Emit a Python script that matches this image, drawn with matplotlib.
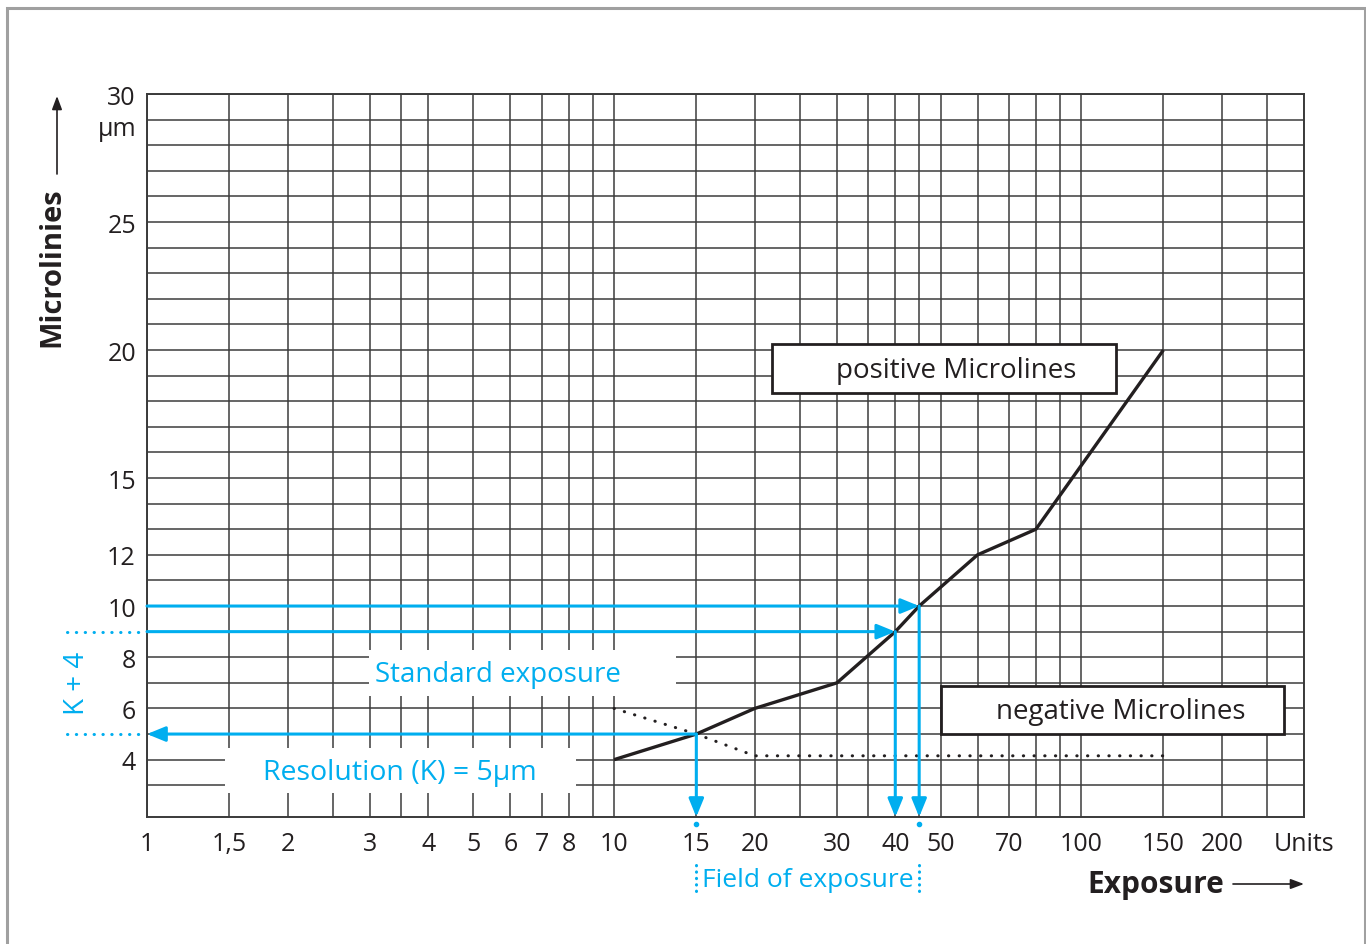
import numpy as np
import matplotlib.pyplot as plt
from matplotlib.patches import Rectangle
from matplotlib.transforms import blended_transform_factory

plt.rcParams['font.family'] = ['Open Sans', 'DejaVu Sans']

# chart values
positive_x = [10, 15, 20, 30, 40, 45, 60, 80, 150]
positive_y = [4, 5, 6, 7, 9, 10, 12, 13, 20]
negative_x = [10, 15, 20, 150]
negative_y = [6, 5, 4.15, 4.15]

x_ticks = [1, 1.5, 2, 3, 4, 5, 6, 7, 8, 10, 15, 20, 30, 40, 50, 70, 100, 150, 200, 300]
x_tick_labels = ['1', '1,5', '2', '3', '4', '5', '6', '7', '8', '10', '15', '20',
                 '30', '40', '50', '70', '100', '150', '200', 'Units']
x_minor = [2.5, 3.5, 9, 25, 35, 45, 60, 80, 90, 250]
y_ticks = [4, 6, 8, 10, 12, 15, 20, 25, 30]
y_minor = [3, 5, 7, 9, 11, 13, 14, 16, 17, 18, 19, 21, 22, 23, 24, 26, 27, 28, 29]

# worked example (blue)
standard_exposure = 15
resolution_k = 5
k_plus_4 = 9
field_x = [40, 45]
field_y = [9, 10]

BLUE = '#00aeef'
INK = '#231f20'
GRID = '#3c3c3c'
W, H = 1366, 945


def arrow(ax, tail, head, **kw):
    ax.annotate('', xy=head, xytext=tail,
                arrowprops=dict(arrowstyle='-|>,head_length=1.1,head_width=0.45',
                                mutation_scale=10, color=BLUE, lw=2.2,
                                shrinkA=0, shrinkB=0),
                annotation_clip=False, zorder=6, **kw)


fig = plt.figure(figsize=(W / 100, H / 100), dpi=100)
ax = fig.add_axes([147 / W, 1 - 818 / H, 1157 / W, 723 / H])

ax.set_xscale('log')
ax.set_xlim(1, 300)
ax.set_ylim(1.76, 30)

ax.set_xticks(x_ticks)
ax.set_xticklabels(x_tick_labels)
ax.set_xticks(x_minor, minor=True)
ax.xaxis.set_minor_formatter(plt.NullFormatter())
ax.set_yticks(y_ticks)
ax.set_yticks(y_minor, minor=True)
ax.tick_params(which='both', length=0, labelsize=18, labelcolor=INK)
ax.tick_params(axis='x', pad=10)
ax.tick_params(axis='y', pad=8)

ax.set_axisbelow(True)
ax.grid(True, which='both', color=GRID, lw=1.1)
for s in ax.spines.values():
    s.set_color('#3a3a3a')
    s.set_linewidth(1.4)

# white patches behind the blue captions
ax.add_patch(Rectangle((2.99, 6.48), 13.6 - 2.99, 8.28 - 6.48, fc='white', ec='none', zorder=1.5))
ax.add_patch(Rectangle((1.47, 2.7), 8.3 - 1.47, 4.45 - 2.7, fc='white', ec='none', zorder=1.5))

# curves
ax.plot(positive_x, positive_y, color=INK, lw=2.4, zorder=4, solid_capstyle='butt')
ax.plot(negative_x, negative_y, color=INK, lw=2.2, zorder=4,
        linestyle=(0, (0.1, 3.4)), dash_capstyle='round')

# labelled boxes
ax.add_patch(Rectangle((21.8, 18.32), 118.8 - 21.8, 20.23 - 18.32, fc='white', ec=INK, lw=2.0, zorder=5))
ax.text(54, 19.22, 'positive Microlines', ha='center', va='center', fontsize=20, color=INK, zorder=6)
ax.add_patch(Rectangle((50.1, 5.0), 272 - 50.1, 6.875 - 5.0, fc='white', ec=INK, lw=2.0, zorder=5))
ax.text(121.8, 5.9, 'negative Microlines', ha='center', va='center', fontsize=20, color=INK, zorder=6)

# blue reading lines
for fx, fy in zip(field_x, field_y):
    arrow(ax, (1, fy), (fx, fy))
    arrow(ax, (fx, fy), (fx, 1.76))
arrow(ax, (standard_exposure, resolution_k), (1, resolution_k))
arrow(ax, (standard_exposure, resolution_k), (standard_exposure, 1.76))

ax.text(5.64, 7.34, 'Standard exposure', ha='center', va='center', fontsize=20, color=BLUE, zorder=6)
ax.text(3.48, 3.52, 'Resolution (K) = 5µm', ha='center', va='center', fontsize=20.5, color=BLUE, zorder=6)

# dotted extensions left of the axis
trans_ay = blended_transform_factory(ax.transAxes, ax.transData)
for yv in [k_plus_4, resolution_k]:
    ax.plot([-0.069, -0.002], [yv, yv], transform=trans_ay, clip_on=False, color=BLUE,
            lw=2.2, linestyle=(0, (0.1, 2.8)), dash_capstyle='round')
fig.text(77 / W, 1 - 683 / H, 'K + 4', rotation=90, ha='center', va='center', fontsize=20, color=BLUE)

# field of exposure bracket below the axis
trans_xa = blended_transform_factory(ax.transData, ax.transAxes)
for xv in [standard_exposure, field_x[1]]:
    ax.plot([xv], [-0.01], 'o', ms=3, color=BLUE, transform=trans_xa, clip_on=False)
    ax.plot([xv, xv], [-0.066, -0.104], transform=trans_xa, clip_on=False, color=BLUE,
            lw=2.2, linestyle=(0, (0.1, 2.0)), dash_capstyle='round')
ax.text(np.sqrt(standard_exposure * field_x[1]), -0.0858, 'Field of exposure', transform=trans_xa,
        ha='center', va='center', fontsize=19, color=BLUE)

# y unit and axis titles
fig.text(136 / W, 1 - 130 / H, 'µm', ha='right', va='center', fontsize=18, color=INK)
fig.text(52 / W, 1 - 267 / H, 'Microlinies', rotation=90, ha='center', va='center',
         fontsize=21, fontweight='bold', color=INK)
fig.text(1156 / W, 1 - 885 / H, 'Exposure', ha='center', va='center',
         fontsize=21.5, fontweight='bold', color=INK)
head = dict(arrowstyle='-|>,head_length=0.8,head_width=0.3', mutation_scale=10,
            color=INK, lw=1.2, shrinkA=0, shrinkB=0)
ax.annotate('', xy=(57, H - 97), xytext=(57, H - 175), xycoords='figure pixels',
            textcoords='figure pixels', arrowprops=head, annotation_clip=False)
ax.annotate('', xy=(1304, H - 885), xytext=(1233, H - 885), xycoords='figure pixels',
            textcoords='figure pixels', arrowprops=head, annotation_clip=False)

# outer frame
fig.add_artist(Rectangle((7 / W, -0.05), (1365 - 7) / W, 1.05 - 9 / H, transform=fig.transFigure,
                         fill=False, ec='#a0a0a0', lw=2.2))

fig.savefig('out.png', dpi=100)
